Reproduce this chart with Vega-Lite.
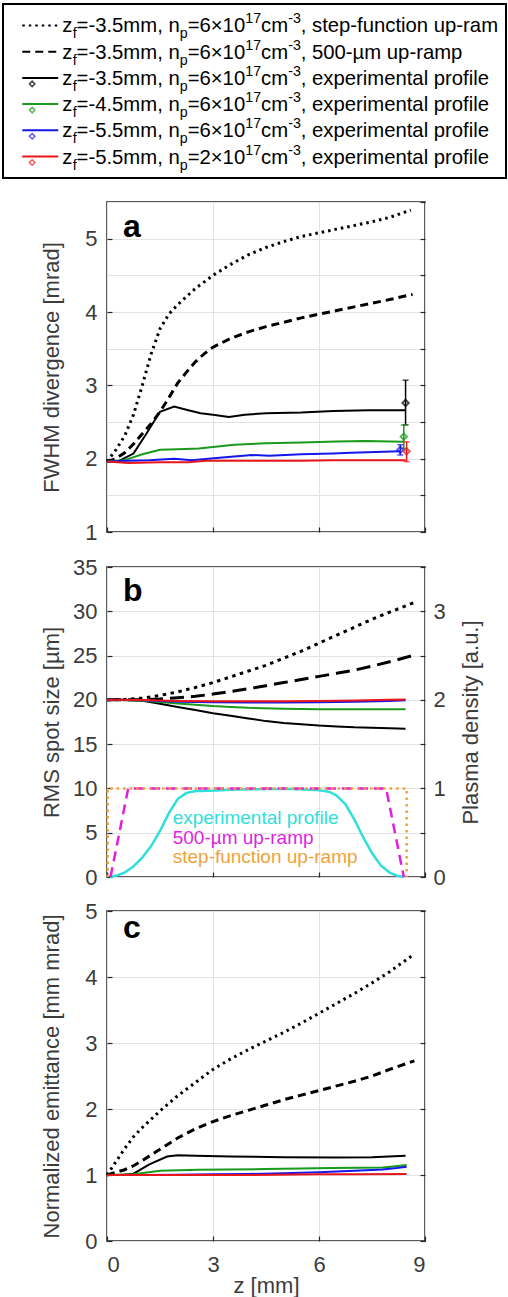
{
  "$schema": "https://vega.github.io/schema/vega-lite/v6.json",
  "padding": {"left": 2, "top": 3, "right": 0, "bottom": 0},
  "background": "white",
  "config": {
    "font": "Liberation Sans",
    "view": {"stroke": "#262626", "strokeWidth": 1.5},
    "axis": {
      "domain": false, "grid": true, "gridColor": "#e2e2e2", "gridWidth": 1,
      "ticks": true, "tickColor": "#262626", "tickSize": -5, "tickWidth": 1.2,
      "labelFont": "Liberation Sans", "labelFontSize": 22, "labelColor": "#3c3c3c", "labelPadding": 15,
      "titleFont": "Liberation Sans", "titleFontSize": 22, "titleFontWeight": "normal", "titleColor": "#3c3c3c"
    }
  },
  "datasets": {
    "legend": [
      {"key": "step", "zf": "=-3.5mm, n", "np": "=6×10", "desc": ", step-function up-ramp"},
      {"key": "ramp", "zf": "=-3.5mm, n", "np": "=6×10", "desc": ", 500-µm up-ramp"},
      {"key": "exp35", "zf": "=-3.5mm, n", "np": "=6×10", "desc": ", experimental profile"},
      {"key": "exp45", "zf": "=-4.5mm, n", "np": "=6×10", "desc": ", experimental profile"},
      {"key": "exp55", "zf": "=-5.5mm, n", "np": "=6×10", "desc": ", experimental profile"},
      {"key": "exp55lo", "zf": "=-5.5mm, n", "np": "=2×10", "desc": ", experimental profile"}
    ],
    "a": [
      {"s": "step", "z": 0, "v": 1.96}, {"s": "step", "z": 0.25, "v": 2.12}, {"s": "step", "z": 0.5, "v": 2.31}, {"s": "step", "z": 0.75, "v": 2.6},
      {"s": "step", "z": 1, "v": 3.0}, {"s": "step", "z": 1.25, "v": 3.43}, {"s": "step", "z": 1.5, "v": 3.77}, {"s": "step", "z": 1.75, "v": 3.97},
      {"s": "step", "z": 2, "v": 4.1}, {"s": "step", "z": 2.5, "v": 4.32}, {"s": "step", "z": 3, "v": 4.5}, {"s": "step", "z": 3.5, "v": 4.65},
      {"s": "step", "z": 4, "v": 4.78}, {"s": "step", "z": 4.5, "v": 4.88}, {"s": "step", "z": 5, "v": 4.96}, {"s": "step", "z": 5.5, "v": 5.03},
      {"s": "step", "z": 6, "v": 5.08}, {"s": "step", "z": 6.5, "v": 5.13}, {"s": "step", "z": 7, "v": 5.18}, {"s": "step", "z": 7.5, "v": 5.23},
      {"s": "step", "z": 8, "v": 5.29}, {"s": "step", "z": 8.6, "v": 5.39},
      {"s": "ramp", "z": 0, "v": 1.96}, {"s": "ramp", "z": 0.25, "v": 2.0}, {"s": "ramp", "z": 0.5, "v": 2.08}, {"s": "ramp", "z": 0.75, "v": 2.2},
      {"s": "ramp", "z": 1, "v": 2.34}, {"s": "ramp", "z": 1.25, "v": 2.48}, {"s": "ramp", "z": 1.5, "v": 2.64}, {"s": "ramp", "z": 1.75, "v": 2.83},
      {"s": "ramp", "z": 2, "v": 3.03}, {"s": "ramp", "z": 2.25, "v": 3.18}, {"s": "ramp", "z": 2.5, "v": 3.32}, {"s": "ramp", "z": 2.75, "v": 3.43},
      {"s": "ramp", "z": 3, "v": 3.52}, {"s": "ramp", "z": 3.5, "v": 3.64}, {"s": "ramp", "z": 4, "v": 3.73}, {"s": "ramp", "z": 4.5, "v": 3.8},
      {"s": "ramp", "z": 5, "v": 3.86}, {"s": "ramp", "z": 5.5, "v": 3.92}, {"s": "ramp", "z": 6, "v": 3.97}, {"s": "ramp", "z": 6.5, "v": 4.02},
      {"s": "ramp", "z": 7, "v": 4.07}, {"s": "ramp", "z": 7.5, "v": 4.12}, {"s": "ramp", "z": 8, "v": 4.17}, {"s": "ramp", "z": 8.65, "v": 4.24},
      {"s": "exp35", "z": 0, "v": 1.96}, {"s": "exp35", "z": 0.3, "v": 1.96}, {"s": "exp35", "z": 0.75, "v": 2.07}, {"s": "exp35", "z": 1.1, "v": 2.33},
      {"s": "exp35", "z": 1.5, "v": 2.64}, {"s": "exp35", "z": 1.9, "v": 2.71}, {"s": "exp35", "z": 2.3, "v": 2.66}, {"s": "exp35", "z": 2.65, "v": 2.62},
      {"s": "exp35", "z": 3, "v": 2.6}, {"s": "exp35", "z": 3.45, "v": 2.57}, {"s": "exp35", "z": 3.9, "v": 2.6}, {"s": "exp35", "z": 4.5, "v": 2.62},
      {"s": "exp35", "z": 5.5, "v": 2.63}, {"s": "exp35", "z": 6.4, "v": 2.65}, {"s": "exp35", "z": 7.4, "v": 2.66}, {"s": "exp35", "z": 8.45, "v": 2.66},
      {"s": "exp45", "z": 0, "v": 1.96}, {"s": "exp45", "z": 0.5, "v": 1.98}, {"s": "exp45", "z": 1, "v": 2.06}, {"s": "exp45", "z": 1.5, "v": 2.12},
      {"s": "exp45", "z": 2, "v": 2.13}, {"s": "exp45", "z": 2.6, "v": 2.14}, {"s": "exp45", "z": 3, "v": 2.16}, {"s": "exp45", "z": 3.6, "v": 2.19},
      {"s": "exp45", "z": 4.5, "v": 2.21}, {"s": "exp45", "z": 5.5, "v": 2.22}, {"s": "exp45", "z": 6.5, "v": 2.235}, {"s": "exp45", "z": 7.3, "v": 2.24},
      {"s": "exp45", "z": 8.4, "v": 2.23},
      {"s": "exp55", "z": 0, "v": 1.96}, {"s": "exp55", "z": 0.6, "v": 1.97}, {"s": "exp55", "z": 1.2, "v": 1.98}, {"s": "exp55", "z": 1.9, "v": 2.0},
      {"s": "exp55", "z": 2.4, "v": 1.98}, {"s": "exp55", "z": 3.1, "v": 2.01}, {"s": "exp55", "z": 3.6, "v": 2.03}, {"s": "exp55", "z": 4.1, "v": 2.05},
      {"s": "exp55", "z": 4.6, "v": 2.04}, {"s": "exp55", "z": 5.5, "v": 2.06}, {"s": "exp55", "z": 6.4, "v": 2.07}, {"s": "exp55", "z": 6.9, "v": 2.08},
      {"s": "exp55", "z": 7.6, "v": 2.09}, {"s": "exp55", "z": 8.3, "v": 2.1},
      {"s": "exp55lo", "z": 0, "v": 1.96}, {"s": "exp55lo", "z": 0.6, "v": 1.94}, {"s": "exp55lo", "z": 1.5, "v": 1.95}, {"s": "exp55lo", "z": 2.3, "v": 1.95},
      {"s": "exp55lo", "z": 2.8, "v": 1.97}, {"s": "exp55lo", "z": 3.5, "v": 1.97}, {"s": "exp55lo", "z": 4.5, "v": 1.97}, {"s": "exp55lo", "z": 5.5, "v": 1.97},
      {"s": "exp55lo", "z": 6.4, "v": 1.98}, {"s": "exp55lo", "z": 7.4, "v": 1.98}, {"s": "exp55lo", "z": 8.45, "v": 1.98}
    ],
    "aerr": [
      {"s": "exp35", "z": 8.45, "m": 2.76, "lo": 2.46, "hi": 3.07},
      {"s": "exp45", "z": 8.4, "m": 2.3, "lo": 2.14, "hi": 2.46},
      {"s": "exp55", "z": 8.3, "m": 2.12, "lo": 2.05, "hi": 2.19},
      {"s": "exp55lo", "z": 8.48, "m": 2.1, "lo": 1.96, "hi": 2.23}
    ],
    "b": [
      {"s": "step", "z": 0, "v": 20}, {"s": "step", "z": 0.5, "v": 20.05}, {"s": "step", "z": 1, "v": 20.2}, {"s": "step", "z": 1.5, "v": 20.5},
      {"s": "step", "z": 2, "v": 20.9}, {"s": "step", "z": 2.5, "v": 21.4}, {"s": "step", "z": 3, "v": 21.95}, {"s": "step", "z": 3.5, "v": 22.6},
      {"s": "step", "z": 4, "v": 23.25}, {"s": "step", "z": 4.5, "v": 23.9}, {"s": "step", "z": 5, "v": 24.7}, {"s": "step", "z": 5.5, "v": 25.5},
      {"s": "step", "z": 6, "v": 26.4}, {"s": "step", "z": 6.5, "v": 27.3}, {"s": "step", "z": 7, "v": 28.2}, {"s": "step", "z": 7.5, "v": 29.1},
      {"s": "step", "z": 8, "v": 29.9}, {"s": "step", "z": 8.7, "v": 31.0},
      {"s": "ramp", "z": 0, "v": 20}, {"s": "ramp", "z": 1, "v": 20}, {"s": "ramp", "z": 1.5, "v": 20.1}, {"s": "ramp", "z": 2, "v": 20.25},
      {"s": "ramp", "z": 2.5, "v": 20.4}, {"s": "ramp", "z": 3, "v": 20.65}, {"s": "ramp", "z": 3.5, "v": 20.95}, {"s": "ramp", "z": 4, "v": 21.25},
      {"s": "ramp", "z": 4.5, "v": 21.6}, {"s": "ramp", "z": 5, "v": 21.95}, {"s": "ramp", "z": 5.5, "v": 22.3}, {"s": "ramp", "z": 6, "v": 22.65},
      {"s": "ramp", "z": 6.5, "v": 23.0}, {"s": "ramp", "z": 7, "v": 23.35}, {"s": "ramp", "z": 7.5, "v": 23.8}, {"s": "ramp", "z": 8, "v": 24.3},
      {"s": "ramp", "z": 8.7, "v": 25.05},
      {"s": "exp35", "z": 0, "v": 20}, {"s": "exp35", "z": 0.5, "v": 20}, {"s": "exp35", "z": 1, "v": 19.9}, {"s": "exp35", "z": 1.5, "v": 19.55},
      {"s": "exp35", "z": 2, "v": 19.2}, {"s": "exp35", "z": 2.5, "v": 18.85}, {"s": "exp35", "z": 3, "v": 18.5}, {"s": "exp35", "z": 3.5, "v": 18.2},
      {"s": "exp35", "z": 4, "v": 17.9}, {"s": "exp35", "z": 4.5, "v": 17.6}, {"s": "exp35", "z": 5, "v": 17.4}, {"s": "exp35", "z": 5.5, "v": 17.25},
      {"s": "exp35", "z": 6, "v": 17.1}, {"s": "exp35", "z": 6.5, "v": 17.0}, {"s": "exp35", "z": 7, "v": 16.9}, {"s": "exp35", "z": 7.5, "v": 16.85},
      {"s": "exp35", "z": 8, "v": 16.8}, {"s": "exp35", "z": 8.45, "v": 16.75},
      {"s": "exp45", "z": 0, "v": 20}, {"s": "exp45", "z": 1, "v": 19.9}, {"s": "exp45", "z": 1.5, "v": 19.75}, {"s": "exp45", "z": 2, "v": 19.6},
      {"s": "exp45", "z": 2.5, "v": 19.45}, {"s": "exp45", "z": 3, "v": 19.3}, {"s": "exp45", "z": 3.5, "v": 19.2}, {"s": "exp45", "z": 4, "v": 19.1},
      {"s": "exp45", "z": 5, "v": 19.0}, {"s": "exp45", "z": 6, "v": 18.95}, {"s": "exp45", "z": 7, "v": 18.95}, {"s": "exp45", "z": 8.45, "v": 18.95},
      {"s": "exp55", "z": 0, "v": 20}, {"s": "exp55", "z": 1, "v": 19.95}, {"s": "exp55", "z": 2, "v": 19.8}, {"s": "exp55", "z": 3, "v": 19.72},
      {"s": "exp55", "z": 4, "v": 19.7}, {"s": "exp55", "z": 5, "v": 19.7}, {"s": "exp55", "z": 6, "v": 19.72}, {"s": "exp55", "z": 7, "v": 19.78},
      {"s": "exp55", "z": 8, "v": 19.88}, {"s": "exp55", "z": 8.45, "v": 19.95},
      {"s": "exp55lo", "z": 0, "v": 20}, {"s": "exp55lo", "z": 1, "v": 19.97}, {"s": "exp55lo", "z": 2, "v": 19.88}, {"s": "exp55lo", "z": 3, "v": 19.84},
      {"s": "exp55lo", "z": 4, "v": 19.83}, {"s": "exp55lo", "z": 5, "v": 19.85}, {"s": "exp55lo", "z": 6, "v": 19.88}, {"s": "exp55lo", "z": 7, "v": 19.93},
      {"s": "exp55lo", "z": 8, "v": 20.0}, {"s": "exp55lo", "z": 8.45, "v": 20.05}
    ],
    "dens": [
      {"p": "pexp", "z": 0.08, "d": 0}, {"p": "pexp", "z": 0.3, "d": 0.02}, {"p": "pexp", "z": 0.5, "d": 0.05}, {"p": "pexp", "z": 0.75, "d": 0.12},
      {"p": "pexp", "z": 1, "d": 0.22}, {"p": "pexp", "z": 1.25, "d": 0.35}, {"p": "pexp", "z": 1.5, "d": 0.52}, {"p": "pexp", "z": 1.75, "d": 0.72},
      {"p": "pexp", "z": 2, "d": 0.88}, {"p": "pexp", "z": 2.25, "d": 0.95}, {"p": "pexp", "z": 2.5, "d": 0.97}, {"p": "pexp", "z": 3, "d": 0.975},
      {"p": "pexp", "z": 3.5, "d": 0.985}, {"p": "pexp", "z": 4, "d": 0.99}, {"p": "pexp", "z": 5, "d": 0.995}, {"p": "pexp", "z": 5.5, "d": 0.99},
      {"p": "pexp", "z": 6, "d": 0.98}, {"p": "pexp", "z": 6.3, "d": 0.96}, {"p": "pexp", "z": 6.5, "d": 0.92}, {"p": "pexp", "z": 6.75, "d": 0.82},
      {"p": "pexp", "z": 7, "d": 0.65}, {"p": "pexp", "z": 7.25, "d": 0.45}, {"p": "pexp", "z": 7.5, "d": 0.27}, {"p": "pexp", "z": 7.75, "d": 0.13},
      {"p": "pexp", "z": 8, "d": 0.05}, {"p": "pexp", "z": 8.2, "d": 0.015}, {"p": "pexp", "z": 8.4, "d": 0},
      {"p": "pramp", "z": 0.1, "d": 0}, {"p": "pramp", "z": 0.6, "d": 1}, {"p": "pramp", "z": 7.9, "d": 1}, {"p": "pramp", "z": 8.4, "d": 0},
      {"p": "pstep", "z": 0.02, "d": 0}, {"p": "pstep", "z": 0.02, "d": 1}, {"p": "pstep", "z": 8.48, "d": 1}, {"p": "pstep", "z": 8.48, "d": 0}
    ],
    "c": [
      {"s": "step", "z": 0, "v": 1.0}, {"s": "step", "z": 0.25, "v": 1.2}, {"s": "step", "z": 0.5, "v": 1.4}, {"s": "step", "z": 0.75, "v": 1.58},
      {"s": "step", "z": 1, "v": 1.72}, {"s": "step", "z": 1.5, "v": 1.97}, {"s": "step", "z": 2, "v": 2.2}, {"s": "step", "z": 2.5, "v": 2.4},
      {"s": "step", "z": 3, "v": 2.6}, {"s": "step", "z": 3.5, "v": 2.76}, {"s": "step", "z": 4, "v": 2.9}, {"s": "step", "z": 4.5, "v": 3.03},
      {"s": "step", "z": 5, "v": 3.16}, {"s": "step", "z": 5.5, "v": 3.3}, {"s": "step", "z": 6, "v": 3.45}, {"s": "step", "z": 6.5, "v": 3.6},
      {"s": "step", "z": 7, "v": 3.75}, {"s": "step", "z": 7.5, "v": 3.91}, {"s": "step", "z": 8, "v": 4.08}, {"s": "step", "z": 8.65, "v": 4.33},
      {"s": "ramp", "z": 0, "v": 1.0}, {"s": "ramp", "z": 0.25, "v": 1.04}, {"s": "ramp", "z": 0.5, "v": 1.08}, {"s": "ramp", "z": 0.75, "v": 1.14},
      {"s": "ramp", "z": 1, "v": 1.22}, {"s": "ramp", "z": 1.5, "v": 1.39}, {"s": "ramp", "z": 2, "v": 1.56}, {"s": "ramp", "z": 2.5, "v": 1.7},
      {"s": "ramp", "z": 3, "v": 1.81}, {"s": "ramp", "z": 3.5, "v": 1.9}, {"s": "ramp", "z": 4, "v": 1.98}, {"s": "ramp", "z": 4.5, "v": 2.06},
      {"s": "ramp", "z": 5, "v": 2.14}, {"s": "ramp", "z": 5.5, "v": 2.21}, {"s": "ramp", "z": 6, "v": 2.28}, {"s": "ramp", "z": 6.5, "v": 2.35},
      {"s": "ramp", "z": 7, "v": 2.42}, {"s": "ramp", "z": 7.5, "v": 2.5}, {"s": "ramp", "z": 8, "v": 2.6}, {"s": "ramp", "z": 8.7, "v": 2.73},
      {"s": "exp35", "z": 0, "v": 1.0}, {"s": "exp35", "z": 0.4, "v": 1.0}, {"s": "exp35", "z": 0.75, "v": 1.02}, {"s": "exp35", "z": 1.2, "v": 1.16},
      {"s": "exp35", "z": 1.7, "v": 1.28}, {"s": "exp35", "z": 2, "v": 1.3}, {"s": "exp35", "z": 2.5, "v": 1.29}, {"s": "exp35", "z": 3.5, "v": 1.28},
      {"s": "exp35", "z": 5, "v": 1.27}, {"s": "exp35", "z": 6.5, "v": 1.265}, {"s": "exp35", "z": 7.5, "v": 1.27}, {"s": "exp35", "z": 8.45, "v": 1.29},
      {"s": "exp45", "z": 0, "v": 1.0}, {"s": "exp45", "z": 0.75, "v": 1.01}, {"s": "exp45", "z": 1.5, "v": 1.065}, {"s": "exp45", "z": 2.6, "v": 1.08},
      {"s": "exp45", "z": 4.5, "v": 1.09}, {"s": "exp45", "z": 6.4, "v": 1.105}, {"s": "exp45", "z": 7.8, "v": 1.115}, {"s": "exp45", "z": 8.1, "v": 1.13},
      {"s": "exp45", "z": 8.48, "v": 1.15},
      {"s": "exp55", "z": 0, "v": 1.0}, {"s": "exp55", "z": 1, "v": 1.0}, {"s": "exp55", "z": 2, "v": 1.005}, {"s": "exp55", "z": 3, "v": 1.01},
      {"s": "exp55", "z": 4, "v": 1.015}, {"s": "exp55", "z": 5, "v": 1.025}, {"s": "exp55", "z": 6, "v": 1.04}, {"s": "exp55", "z": 7, "v": 1.065},
      {"s": "exp55", "z": 7.8, "v": 1.085}, {"s": "exp55", "z": 8.2, "v": 1.105}, {"s": "exp55", "z": 8.48, "v": 1.125},
      {"s": "exp55lo", "z": 0, "v": 1.0}, {"s": "exp55lo", "z": 2, "v": 1.0}, {"s": "exp55lo", "z": 4, "v": 1.0}, {"s": "exp55lo", "z": 6, "v": 1.01},
      {"s": "exp55lo", "z": 7, "v": 1.012}, {"s": "exp55lo", "z": 8.48, "v": 1.015}
    ]
  },
  "spacing": 21,
  "vconcat": [
    {
      "width": 318,
      "height": 174,
      "view": {"stroke": null},
      "layer": [
        {
          "data": {"values": [{}]},
          "mark": {"type": "rect", "fill": "white", "stroke": "#000000", "strokeWidth": 2},
          "encoding": {
            "x": {"datum": 0, "type": "quantitative", "scale": {"domain": [0, 100], "range": [-104, 399]}, "axis": null},
            "x2": {"datum": 100}
          }
        },
        {
          "data": {"name": "legend"},
          "mark": {"type": "rule", "strokeWidth": 2},
          "encoding": {
            "x": {"datum": 3.83, "type": "quantitative", "axis": null},
            "x2": {"datum": 10.98},
            "y": {"field": "key", "type": "nominal", "scale": {"type": "point", "domain": ["step", "ramp", "exp35", "exp45", "exp55", "exp55lo"], "padding": 0.82}, "axis": null},
            "color": {"field": "key", "type": "nominal", "scale": {"domain": ["step", "ramp", "exp35", "exp45", "exp55", "exp55lo"], "range": ["#000000", "#000000", "#000000", "#1a9a1a", "#1515ee", "#e8161b"]}, "legend": null},
            "strokeDash": {"field": "key", "type": "nominal", "scale": {"domain": ["step", "ramp", "exp35", "exp45", "exp55", "exp55lo"], "range": [[2.5, 4], [8, 5], [1, 0], [1, 0], [1, 0], [1, 0]]}, "legend": null}
          }
        },
        {
          "data": {"name": "legend"},
          "transform": [{"filter": {"field": "key", "oneOf": ["exp35", "exp45", "exp55", "exp55lo"]}}],
          "mark": {"type": "point", "shape": "diamond", "size": 30, "filled": false, "strokeWidth": 1.5, "yOffset": 6},
          "encoding": {
            "x": {"datum": 5.8, "type": "quantitative"},
            "y": {"field": "key", "type": "nominal", "axis": null},
            "color": {"field": "key", "type": "nominal", "legend": null}
          }
        },
        {
          "data": {"name": "legend"},
          "mark": {"type": "text", "text": "z", "align": "left", "baseline": "alphabetic", "fontSize": 20.3, "dy": 7, "color": "#000000"},
          "encoding": {"x": {"datum": 11.78, "type": "quantitative"}, "y": {"field": "key", "type": "nominal", "axis": null}}
        },
        {
          "data": {"name": "legend"},
          "mark": {"type": "text", "text": "f", "align": "left", "baseline": "alphabetic", "fontSize": 14.2, "dx": 10.4, "dy": 13, "color": "#000000"},
          "encoding": {"x": {"datum": 11.78, "type": "quantitative"}, "y": {"field": "key", "type": "nominal", "axis": null}}
        },
        {
          "data": {"name": "legend"},
          "mark": {"type": "text", "align": "left", "baseline": "alphabetic", "fontSize": 20.3, "dx": 14.3, "dy": 7, "color": "#000000"},
          "encoding": {"x": {"datum": 11.78, "type": "quantitative"}, "y": {"field": "key", "type": "nominal", "axis": null}, "text": {"field": "zf"}}
        },
        {
          "data": {"name": "legend"},
          "mark": {"type": "text", "text": "p", "align": "left", "baseline": "alphabetic", "fontSize": 14.2, "dx": 117.4, "dy": 13, "color": "#000000"},
          "encoding": {"x": {"datum": 11.78, "type": "quantitative"}, "y": {"field": "key", "type": "nominal", "axis": null}}
        },
        {
          "data": {"name": "legend"},
          "mark": {"type": "text", "align": "left", "baseline": "alphabetic", "fontSize": 20.3, "dx": 125.4, "dy": 7, "color": "#000000"},
          "encoding": {"x": {"datum": 11.78, "type": "quantitative"}, "y": {"field": "key", "type": "nominal", "axis": null}, "text": {"field": "np"}}
        },
        {
          "data": {"name": "legend"},
          "mark": {"type": "text", "text": "17", "align": "left", "baseline": "alphabetic", "fontSize": 14.2, "dx": 183, "dy": -2, "color": "#000000"},
          "encoding": {"x": {"datum": 11.78, "type": "quantitative"}, "y": {"field": "key", "type": "nominal", "axis": null}}
        },
        {
          "data": {"name": "legend"},
          "mark": {"type": "text", "text": "cm", "align": "left", "baseline": "alphabetic", "fontSize": 20.3, "dx": 198.8, "dy": 7, "color": "#000000"},
          "encoding": {"x": {"datum": 11.78, "type": "quantitative"}, "y": {"field": "key", "type": "nominal", "axis": null}}
        },
        {
          "data": {"name": "legend"},
          "mark": {"type": "text", "text": "-3", "align": "left", "baseline": "alphabetic", "fontSize": 14.2, "dx": 225.9, "dy": -2, "color": "#000000"},
          "encoding": {"x": {"datum": 11.78, "type": "quantitative"}, "y": {"field": "key", "type": "nominal", "axis": null}}
        },
        {
          "data": {"name": "legend"},
          "mark": {"type": "text", "align": "left", "baseline": "alphabetic", "fontSize": 20.3, "dx": 238.5, "dy": 7, "color": "#000000", "limit": 206, "ellipsis": " "},
          "encoding": {"x": {"datum": 11.78, "type": "quantitative"}, "y": {"field": "key", "type": "nominal", "axis": null}, "text": {"field": "desc"}}
        }
      ]
    },
    {
      "spacing": 11,
      "vconcat": [
        {
          "width": 318,
          "height": 330,
          "layer": [
            {
              "data": {"name": "a"},
              "transform": [{"filter": {"field": "s", "oneOf": ["step", "ramp"]}}],
              "mark": {"type": "line", "strokeWidth": 3},
              "encoding": {
                "x": {"field": "z", "type": "quantitative", "scale": {"domain": [0, 9]}, "axis": {"values": [0, 3, 6, 9], "labels": false, "title": null}},
                "y": {"field": "v", "type": "quantitative", "scale": {"domain": [1, 5.5]}, "axis": {"values": [1, 2, 3, 4, 5], "grid": false, "title": "FWHM divergence [mrad]", "titleX": -56, "titleBaseline": "middle"}},
                "color": {"field": "s", "type": "nominal", "scale": {"domain": ["step", "ramp", "exp35", "exp45", "exp55", "exp55lo"], "range": ["#000000", "#000000", "#000000", "#1a9a1a", "#1515ee", "#e8161b"]}, "legend": null},
                "strokeDash": {"field": "s", "type": "nominal", "scale": {"domain": ["step", "ramp"], "range": [[3.5, 4.5], [14, 7]]}, "legend": null}
              }
            },
            {
              "data": {"name": "a"},
              "transform": [{"filter": {"field": "s", "oneOf": ["exp35", "exp45", "exp55", "exp55lo"]}}],
              "mark": {"type": "line", "strokeWidth": 2},
              "encoding": {
                "x": {"field": "z", "type": "quantitative"},
                "y": {"field": "v", "type": "quantitative", "axis": null},
                "color": {"field": "s", "type": "nominal", "legend": null}
              }
            },
            {
              "data": {"name": "aerr"},
              "mark": {"type": "rule", "strokeWidth": 1.5},
              "encoding": {
                "x": {"field": "z", "type": "quantitative"},
                "y": {"field": "lo", "type": "quantitative", "axis": {"orient": "right", "values": [1, 1.5, 2, 2.5, 3, 3.5, 4, 4.5, 5, 5.5], "labels": false, "title": null, "grid": true}},
                "y2": {"field": "hi"},
                "color": {"field": "s", "type": "nominal", "legend": null}
              }
            },
            {
              "data": {"name": "aerr"},
              "mark": {"type": "point", "shape": "M-1,0L1,0", "size": 36, "filled": false, "strokeWidth": 1.5},
              "encoding": {
                "x": {"field": "z", "type": "quantitative"},
                "y": {"field": "lo", "type": "quantitative", "axis": null},
                "color": {"field": "s", "type": "nominal", "legend": null}
              }
            },
            {
              "data": {"name": "aerr"},
              "mark": {"type": "point", "shape": "M-1,0L1,0", "size": 36, "filled": false, "strokeWidth": 1.5},
              "encoding": {
                "x": {"field": "z", "type": "quantitative"},
                "y": {"field": "hi", "type": "quantitative", "axis": null},
                "color": {"field": "s", "type": "nominal", "legend": null}
              }
            },
            {
              "data": {"name": "aerr"},
              "mark": {"type": "point", "shape": "diamond", "size": 40, "filled": false, "strokeWidth": 2},
              "encoding": {
                "x": {"field": "z", "type": "quantitative"},
                "y": {"field": "m", "type": "quantitative", "axis": null},
                "color": {"field": "s", "type": "nominal", "legend": null}
              }
            },
            {
              "data": {"values": [{}]},
              "mark": {"type": "text", "text": "a", "fontSize": 32, "fontWeight": "bold", "align": "left", "baseline": "alphabetic", "color": "#000000"},
              "encoding": {
                "x": {"datum": 0.45, "type": "quantitative"},
                "y": {"datum": 5.02, "type": "quantitative", "axis": null}
              }
            }
          ],
          "resolve": {"axis": {"y": "independent"}}
        },
        {
          "spacing": 10,
          "vconcat": [
            {
              "width": 318,
              "height": 310,
              "layer": [
                {
                  "layer": [
                    {
                      "data": {"name": "b"},
                      "transform": [{"filter": {"field": "s", "oneOf": ["step", "ramp"]}}],
                      "mark": {"type": "line", "strokeWidth": 3},
                      "encoding": {
                        "x": {"field": "z", "type": "quantitative", "scale": {"domain": [0, 9]}, "axis": {"values": [0, 3, 6, 9], "labels": false, "title": null}},
                        "y": {"field": "v", "type": "quantitative", "scale": {"domain": [0, 35]}, "axis": {"values": [0, 5, 10, 15, 20, 25, 30, 35], "title": "RMS spot size [µm]", "titleX": -56, "titleBaseline": "middle"}},
                        "color": {"field": "s", "type": "nominal", "scale": {"domain": ["step", "ramp", "exp35", "exp45", "exp55", "exp55lo"], "range": ["#000000", "#000000", "#000000", "#1a9a1a", "#1515ee", "#e8161b"]}, "legend": null},
                        "strokeDash": {"field": "s", "type": "nominal", "scale": {"domain": ["step", "ramp"], "range": [[3.5, 4.5], [14, 7]]}, "legend": null}
                      }
                    },
                    {
                      "data": {"name": "b"},
                      "transform": [{"filter": {"field": "s", "oneOf": ["exp35", "exp45", "exp55", "exp55lo"]}}],
                      "mark": {"type": "line", "strokeWidth": 2},
                      "encoding": {
                        "x": {"field": "z", "type": "quantitative"},
                        "y": {"field": "v", "type": "quantitative"},
                        "color": {"field": "s", "type": "nominal", "legend": null}
                      }
                    },
                    {
                      "data": {"values": [{}]},
                      "mark": {"type": "text", "text": "b", "fontSize": 32, "fontWeight": "bold", "align": "left", "baseline": "alphabetic", "color": "#000000"},
                      "encoding": {
                        "x": {"datum": 0.45, "type": "quantitative"},
                        "y": {"datum": 31.2, "type": "quantitative"}
                      }
                    }
                  ]
                },
                {
                  "layer": [
                    {
                      "data": {"name": "dens"},
                      "mark": {"type": "line", "strokeWidth": 2.5},
                      "encoding": {
                        "x": {"field": "z", "type": "quantitative"},
                        "y": {"field": "d", "type": "quantitative", "scale": {"domain": [0, 3.5]}, "axis": {"orient": "right", "values": [0, 0.5, 1, 1.5, 2, 2.5, 3, 3.5], "labelExpr": "datum.value % 1 === 0 ? format(datum.value, 'd') : ''", "labelPadding": 13, "grid": false, "title": "Plasma density [a.u.]", "titleX": 45, "titleAngle": 270, "titleBaseline": "middle"}},
                        "color": {"field": "p", "type": "nominal", "scale": {"domain": ["pexp", "pramp", "pstep"], "range": ["#2fdfdb", "#e01fe0", "#f0a23a"]}, "legend": null},
                        "strokeDash": {"field": "p", "type": "nominal", "scale": {"domain": ["pexp", "pramp", "pstep"], "range": [[1, 0], [10, 6], [2.5, 4]]}, "legend": null}
                      }
                    },
                    {
                      "data": {"values": [{}]},
                      "mark": {"type": "text", "text": "experimental profile", "fontSize": 19, "align": "left", "baseline": "alphabetic"},
                      "encoding": {
                        "x": {"datum": 1.86, "type": "quantitative"},
                        "y": {"datum": 0.598, "type": "quantitative"},
                        "color": {"datum": "pexp", "type": "nominal", "legend": null}
                      }
                    },
                    {
                      "data": {"values": [{}]},
                      "mark": {"type": "text", "text": "500-µm up-ramp", "fontSize": 19, "align": "left", "baseline": "alphabetic"},
                      "encoding": {
                        "x": {"datum": 1.86, "type": "quantitative"},
                        "y": {"datum": 0.367, "type": "quantitative"},
                        "color": {"datum": "pramp", "type": "nominal", "legend": null}
                      }
                    },
                    {
                      "data": {"values": [{}]},
                      "mark": {"type": "text", "text": "step-function up-ramp", "fontSize": 19, "align": "left", "baseline": "alphabetic"},
                      "encoding": {
                        "x": {"datum": 1.86, "type": "quantitative"},
                        "y": {"datum": 0.158, "type": "quantitative"},
                        "color": {"datum": "pstep", "type": "nominal", "legend": null}
                      }
                    }
                  ]
                }
              ],
              "resolve": {"scale": {"y": "independent", "color": "independent", "strokeDash": "independent"}}
            },
            {
              "width": 318,
              "height": 330,
              "layer": [
                {
                  "data": {"name": "c"},
                  "transform": [{"filter": {"field": "s", "oneOf": ["step", "ramp"]}}],
                  "mark": {"type": "line", "strokeWidth": 3},
                  "encoding": {
                    "x": {"field": "z", "type": "quantitative", "scale": {"domain": [0, 9]}, "axis": {"values": [0, 3, 6, 9], "title": "z [mm]", "labelPadding": 18, "titlePadding": 0}},
                    "y": {"field": "v", "type": "quantitative", "scale": {"domain": [0, 5]}, "axis": {"values": [0, 1, 2, 3, 4, 5], "title": "Normalized emittance [mm mrad]", "titleX": -56, "titleBaseline": "middle"}},
                    "color": {"field": "s", "type": "nominal", "scale": {"domain": ["step", "ramp", "exp35", "exp45", "exp55", "exp55lo"], "range": ["#000000", "#000000", "#000000", "#1a9a1a", "#1515ee", "#e8161b"]}, "legend": null},
                    "strokeDash": {"field": "s", "type": "nominal", "scale": {"domain": ["step", "ramp"], "range": [[3.5, 4.5], [14, 7]]}, "legend": null}
                  }
                },
                {
                  "data": {"name": "c"},
                  "transform": [{"filter": {"field": "s", "oneOf": ["exp35", "exp45", "exp55", "exp55lo"]}}],
                  "mark": {"type": "line", "strokeWidth": 2},
                  "encoding": {
                    "x": {"field": "z", "type": "quantitative"},
                    "y": {"field": "v", "type": "quantitative", "axis": {"orient": "right", "values": [0, 1, 2, 3, 4, 5], "labels": false, "title": null, "grid": false}},
                    "color": {"field": "s", "type": "nominal", "legend": null}
                  }
                },
                {
                  "data": {"values": [{}]},
                  "mark": {"type": "text", "text": "c", "fontSize": 32, "fontWeight": "bold", "align": "left", "baseline": "alphabetic", "color": "#000000"},
                  "encoding": {
                    "x": {"datum": 0.45, "type": "quantitative"},
                    "y": {"datum": 4.59, "type": "quantitative", "axis": null}
                  }
                }
              ],
              "resolve": {"axis": {"y": "independent"}}
            }
          ]
        }
      ]
    }
  ]
}
